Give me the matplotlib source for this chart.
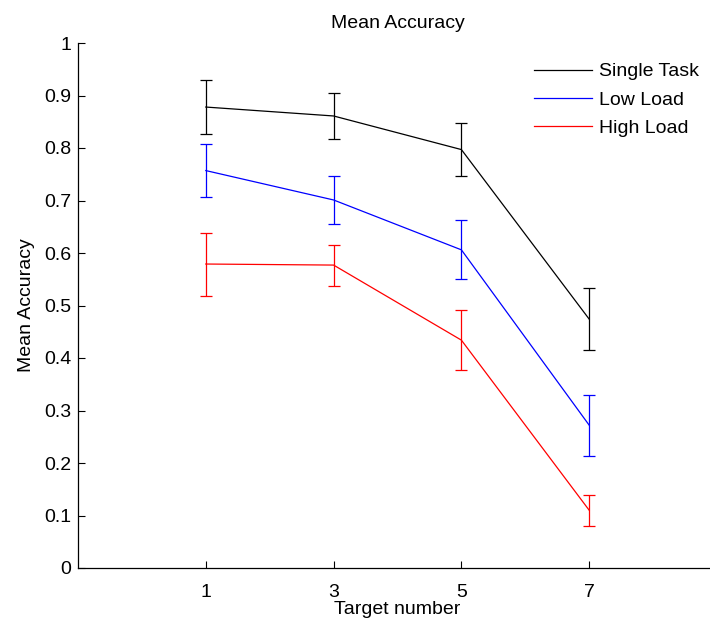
import matplotlib
matplotlib.use("Agg")
import matplotlib.pyplot as plt

plt.rcParams['font.family'] = ['Liberation Sans', 'DejaVu Sans']

target = [1, 3, 5, 7]
single_task = [0.878, 0.861, 0.797, 0.474]
single_err = [0.052, 0.043, 0.050, 0.059]
low_load = [0.757, 0.701, 0.606, 0.272]
low_err = [0.050, 0.046, 0.056, 0.058]
high_load = [0.579, 0.577, 0.434, 0.110]
high_err = [0.060, 0.039, 0.057, 0.030]

series = [
    ("Single Task", single_task, single_err, "black"),
    ("Low Load", low_load, low_err, "#0000ff"),
    ("High Load", high_load, high_err, "#ff0000"),
]

fs = 14

fig = plt.figure(figsize=(7.10, 6.26), dpi=100)
ax = fig.add_axes([78 / 710, 58 / 626, 639 / 710, 525 / 626])

handles = []
for label, vals, errs, color in series:
    eb = ax.errorbar(target, vals, yerr=errs, color=color, lw=0.9,
                     elinewidth=0.9, capsize=4, capthick=0.9, label=label)
    handles.append(eb.lines[0])

ax.set_xlim(-1, 9)
ax.set_ylim(0, 1)
ax.set_xticks(target)
ax.set_yticks([i / 10 for i in range(11)])
ax.set_yticklabels(["0", "0.1", "0.2", "0.3", "0.4", "0.5", "0.6", "0.7",
                    "0.8", "0.9", "1"])
ax.tick_params(direction="in", length=5, width=0.8, labelsize=fs)
ax.tick_params(axis="x", pad=11.5)
ax.tick_params(axis="y", pad=5)
ax.spines["top"].set_visible(False)
ax.spines["right"].set_visible(False)
for s in ("left", "bottom"):
    ax.spines[s].set_linewidth(0.9)

ax.set_title("Mean Accuracy", fontsize=fs, pad=11)
ax.set_xlabel("Target number", fontsize=fs, labelpad=0.3)
ax.set_ylabel("Mean Accuracy", fontsize=fs, labelpad=6.5)

ax.legend(handles, [s[0] for s in series], loc="upper left",
          bbox_to_anchor=(526 / 710, 1 - 55 / 626), bbox_transform=fig.transFigure,
          frameon=False, fontsize=fs, handlelength=3.0, handletextpad=0.36,
          labelspacing=0.55, borderaxespad=0)

fig.savefig("out.png", dpi=100)
